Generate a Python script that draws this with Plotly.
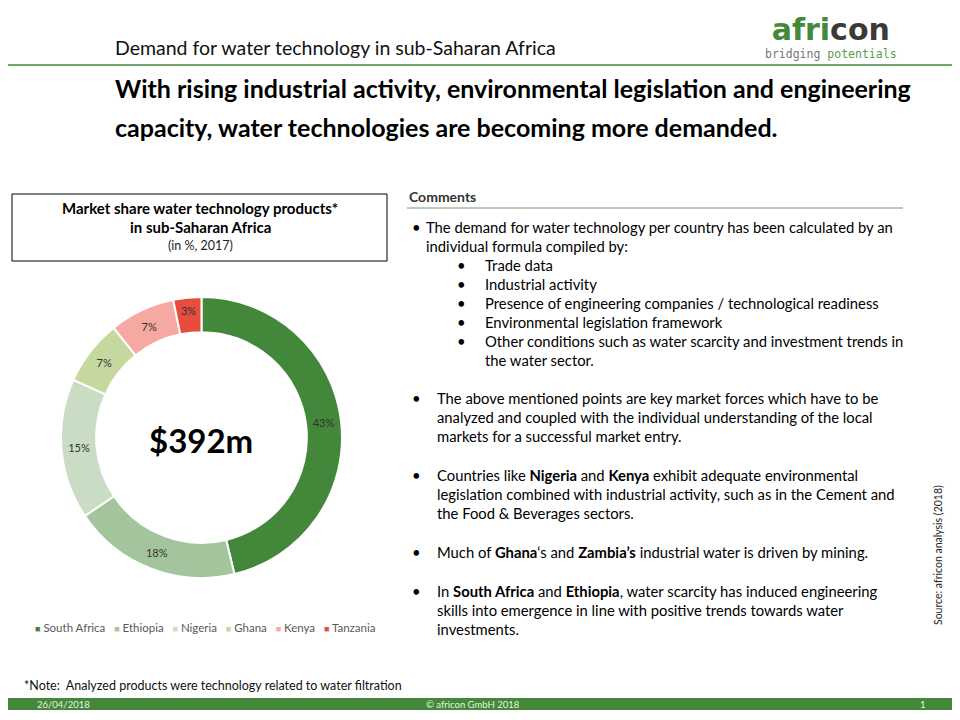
import plotly.graph_objects as go

# ---- data ----
countries = ["South Africa", "Ethiopia", "Nigeria", "Ghana", "Kenya", "Tanzania"]
shares = [43, 18, 15, 7, 7, 3]
colors = ["#43873A", "#A3C49D", "#C9DDC5", "#C5D89F", "#F6A9A2", "#E84C3D"]
total_label = "$392m"

header = "Demand for water technology in sub-Saharan Africa"
headline = ["With rising industrial activity, environmental legislation and engineering",
            "capacity, water technologies are becoming more demanded."]
chart_title = ["<b>Market share water technology products*</b>",
               "<b>in sub-Saharan Africa</b>",
               "(in %, 2017)"]

W, H = 960, 720
OFF = 8  # page body margin
GREEN = "#44883A"
FONT = "Lato"


def X(px):
    return (px - OFF) / W


def Y(py):
    return 1 - (py - OFF) / H


fig = go.Figure()
fig.add_trace(go.Pie(
    labels=countries, values=shares, hole=0.75, sort=False,
    direction="clockwise", rotation=0,
    marker=dict(colors=colors, line=dict(color="white", width=2)),
    texttemplate="%{value}%", textposition="inside",
    insidetextorientation="horizontal",
    textfont=dict(family=FONT, size=11, color="#333333"),
    domain=dict(x=[X(61), X(342)], y=[Y(578), Y(297)]),
    showlegend=False, hoverinfo="label+value",
))

ann = []
shapes = []


def text(x, y, s, size=13, color="#000", xanchor="left", yanchor="middle", **kw):
    ann.append(dict(x=X(x), y=Y(y), xref="paper", yref="paper", text=s,
                    showarrow=False, xanchor=xanchor, yanchor=yanchor,
                    font=dict(family=kw.pop("family", FONT), size=size, color=color), **kw))


# header
text(113, 47, header, size=19.5, color="#111")
shapes.append(dict(type="line", xref="paper", yref="paper", x0=-0.02, x1=1.02, y0=Y(65), y1=Y(65),
                   line=dict(color=GREEN, width=1.5)))
# logo (single two-line text)
logo = ("<b><span style='font-size:30px;font-family:DejaVu Sans'>"
        "<span style='color:#44883A'>afri</span><span style='color:#3A3A3A'>con</span></span></b>"
        "<br><span style='font-size:11.5px'><span style='color:#777'>bridging</span> "
        "<span style='color:#5E9A52'>potentials</span></span>")
text(831, 37, logo, size=14, xanchor="center", yanchor="middle",
     family="DejaVu Sans Mono", borderpad=0)

# headline
text(113, 88, "<b>" + headline[0] + "</b>", size=25)
text(113, 127, "<b>" + headline[1] + "</b>", size=25)

# chart title box
shapes.append(dict(type="rect", xref="paper", yref="paper", x0=X(12), x1=X(387), y0=Y(261), y1=Y(194),
                   line=dict(color="#000", width=1)))
text(200, 208, chart_title[0], size=15, xanchor="center")
text(200, 227, chart_title[1], size=15, xanchor="center")
text(200, 246, chart_title[2], size=12.5, xanchor="center", color="#222")

# centre label
text(201, 440, "<b>" + total_label + "</b>", size=33, xanchor="center")

# legend built from data
leg = "   ".join(f"<span style='color:{c};font-size:9px'>■</span> {n}" for n, c in zip(countries, colors))
text(205, 627, leg, size=11.5, xanchor="center", color="#595959")

# comments
text(407, 197, "<b>Comments</b>", size=14, color="#333")
shapes.append(dict(type="line", xref="paper", yref="paper", x0=X(407), x1=X(903), y0=Y(208), y1=Y(208),
                   line=dict(color="#6FA063", width=1)))

body = 14.8
text(410, 227, "•", size=body)
text(424, 227, "The demand for water technology per country has been calculated by an", size=body)
text(424, 246, "individual formula compiled by:", size=body)
subs = ["Trade data", "Industrial activity", "Presence of engineering companies / technological readiness",
        "Environmental legislation framework",
        "Other conditions such as water scarcity and investment trends in"]
for i, s in enumerate(subs):
    yy = 265 + 19 * i
    text(455, yy, "•", size=body)
    text(483, yy, s, size=body)
text(483, 360, "the water sector.", size=body)

paras = [
    (398, ["The above mentioned points are key market forces which have to be",
           "analyzed and coupled with the individual understanding of the local",
           "markets for a successful market entry."]),
    (475, ["Countries like <b>Nigeria</b> and <b>Kenya</b> exhibit adequate environmental",
           "legislation combined with industrial activity, such as in the Cement and",
           "the Food &amp; Beverages sectors."]),
    (552, ["Much of <b>Ghana</b>‘s and <b>Zambia’s</b> industrial water is driven by mining."]),
    (591, ["In <b>South Africa</b> and <b>Ethiopia</b>, water scarcity has induced engineering",
           "skills into emergence in line with positive trends towards water",
           "investments."]),
]
for y0, lines in paras:
    text(410, y0, "•", size=body)
    for j, ln in enumerate(lines):
        text(435, y0 + 19 * j, ln, size=body)

# source
text(938, 555, "Source: africon analysis (2018)", size=10.5, xanchor="center", textangle=-90, color="#222")

# note
text(22, 685, "*Note:  Analyzed products were technology related to water filtration", size=12.5, color="#111")

# footer bar
shapes.append(dict(type="rect", xref="paper", yref="paper", x0=-0.02, x1=1.02, y0=Y(710), y1=Y(698),
                   line=dict(width=0), fillcolor=GREEN))
text(35, 704, "26/04/2018", size=9.5, color="#E8F0E6")
text(473, 704, "© africon GmbH 2018", size=9.5, color="#E8F0E6", xanchor="center")
text(918, 704, "1", size=9.5, color="#E8F0E6")

fig.update_layout(
    width=W, height=H, margin=dict(l=0, r=0, t=0, b=0),
    paper_bgcolor="white", plot_bgcolor="white",
    annotations=ann, shapes=shapes, showlegend=False,
    font=dict(family=FONT),
)
fig.write_html("out.html")
